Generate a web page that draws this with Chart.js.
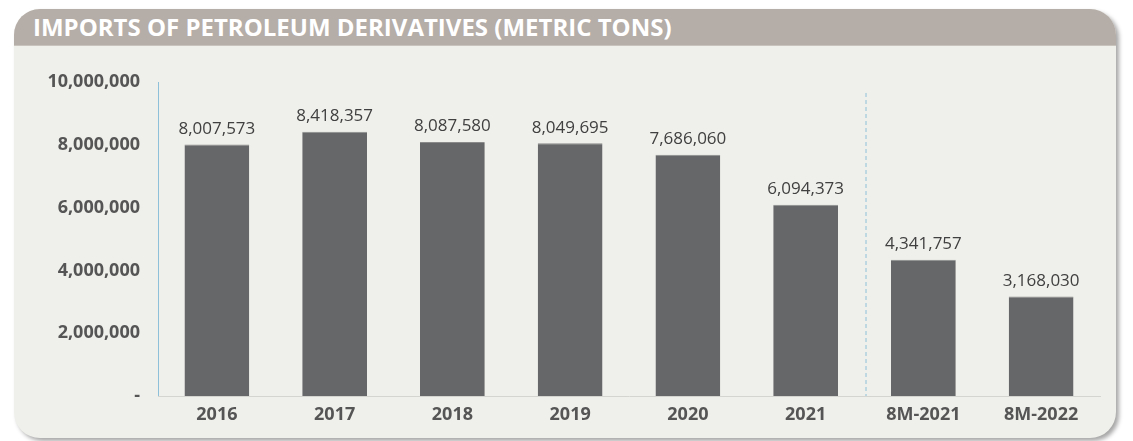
<!DOCTYPE html>
<html>
<head>
<meta charset="utf-8">
<script src="https://cdn.jsdelivr.net/npm/chart.js@4/dist/chart.umd.min.js"></script>
<style>
  body { margin: 0; background: #ffffff; width: 1133px; height: 441px; overflow: hidden; position: relative; font-family: "Open Sans", sans-serif; }
  .panel { position: absolute; left: 14px; top: 9px; width: 1102px; height: 429px; background: #efefeb; border-radius: 26px; box-shadow: 3px 3px 4px rgba(0,0,0,0.35); overflow: hidden; }
  .titulo { height: 36px; background: #b5ada7; color: #ffffff; font-weight: 700; font-size: 24px; line-height: 36px; padding-left: 19px; border-bottom: 1px solid #c9c3bd; white-space: nowrap; }
  #grafico { position: absolute; left: 0; top: 0; }
</style>
</head>
<body>
<div class="panel"><div class="titulo">IMPORTS OF PETROLEUM DERIVATIVES (METRIC TONS)</div></div>
<canvas id="grafico" width="1133" height="441"></canvas>
<script>
/* dados do grafico */
var categorias = ["2016", "2017", "2018", "2019", "2020", "2021", "8M-2021", "8M-2022"];
var toneladas = [8007573, 8418357, 8087580, 8049695, 7686060, 6094373, 4341757, 3168030];
var ticksY = [0, 2000000, 4000000, 6000000, 8000000, 10000000];

function formatar(n) {
  return n.toLocaleString("en-US");
}

// linha tracejada entre 2021 e 8M-2021 + rotulos acima das barras
var pluginExtras = {
  id: "extras",
  afterDatasetsDraw: function(chart) {
    var ctx = chart.ctx;
    var escalaX = chart.scales.x;
    var escalaY = chart.scales.y;
    var xa = escalaX.getPixelForValue(5);
    var xb = escalaX.getPixelForValue(6);
    var xm = (xa + xb) / 2;

    ctx.save();
    ctx.strokeStyle = "#8ec1d9";
    ctx.lineWidth = 1;
    ctx.setLineDash([4, 3]);
    ctx.beginPath();
    ctx.moveTo(xm + 1.5, escalaY.getPixelForValue(ticksY[ticksY.length - 1]) + 11);
    ctx.lineTo(xm + 1.5, escalaY.getPixelForValue(0));
    ctx.stroke();
    ctx.restore();

    var meta = chart.getDatasetMeta(0);
    ctx.save();
    ctx.fillStyle = "#404040";
    ctx.font = "17px 'Open Sans'";
    ctx.textAlign = "center";
    ctx.textBaseline = "bottom";
    for (var i = 0; i < meta.data.length; i++) {
      var barra = meta.data[i];
      ctx.fillText(formatar(toneladas[i]), barra.x, barra.y - 7);
    }
    ctx.restore();
  }
};

new Chart(document.getElementById("grafico").getContext("2d"), {
  type: "bar",
  data: {
    labels: categorias,
    datasets: [{
      data: toneladas,
      backgroundColor: "#666769",
      borderColor: "#8a8a8a",
      borderWidth: { top: 1, left: 0, right: 0, bottom: 0 },
      categoryPercentage: 1,
      barPercentage: 0.55
    }]
  },
  options: {
    responsive: false,
    animation: false,
    layout: { padding: { top: 82, right: 33, bottom: 0, left: 0 } },
    plugins: { legend: { display: false }, tooltip: { enabled: false } },
    scales: {
      y: {
        min: 0,
        max: 10000000,
        afterFit: function(s) { s.width = 158; },
        afterBuildTicks: function(s) { s.ticks = ticksY.map(function(v) { return { value: v }; }); },
        ticks: {
          padding: 18,
          color: "#555555",
          font: { family: "Open Sans", size: 18, weight: "bold" },
          callback: function(v) { return v == 0 ? "-" : formatar(v); }
        },
        grid: { display: false, drawTicks: false },
        border: { color: "#8ec1d9", width: 1 }
      },
      x: {
        afterFit: function(s) { s.height = 45; },
        ticks: {
          padding: 8,
          color: "#555555",
          font: { family: "Open Sans", size: 18, weight: "bold" }
        },
        grid: { display: false, drawTicks: false },
        border: { color: "#d4d4d0", width: 1 }
      }
    }
  },
  plugins: [pluginExtras]
});
</script>
</body>
</html>
